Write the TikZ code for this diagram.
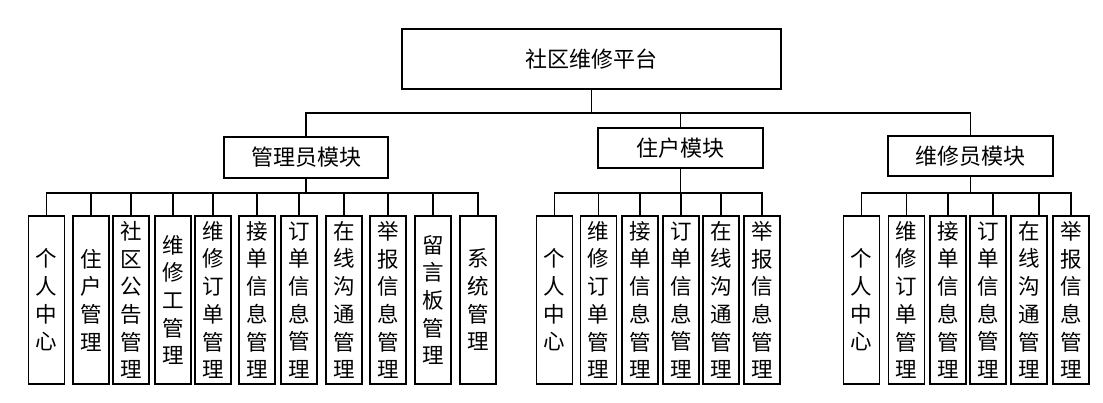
\documentclass[tikz,border=0pt]{standalone}
\usepackage{fontspec}
\newfontfamily\cjk{Noto Sans CJK SC}
\begin{document}
\begin{tikzpicture}[x=1pt,y=-1pt,
  box/.style={draw,line width=1.3pt,inner sep=0pt,font=\cjk\fontsize{22}{26}\selectfont},
  leaf/.style={draw,line width=1.3pt,inner sep=0pt,minimum width=36pt,minimum height=168pt,
    align=center,font=\cjk\fontsize{21.5}{27.7}\selectfont},
  wire/.style={line width=1.3pt}]
\useasboundingbox (0,0) rectangle (1103,403);

% Top level
\node[box,minimum width=379pt,minimum height=60pt] (top) at (591.5,59) {社区维修平台};

% Modules
\node[box,minimum width=164pt,minimum height=41pt] (admin) at (306,157.5) {管理员模块};
\node[box,minimum width=165pt,minimum height=40pt] (resident) at (680.5,148) {住户模块};
\node[box,minimum width=165pt,minimum height=40pt] (repair) at (970.5,156) {维修员模块};

% Main bus
\coordinate (mbus) at (592,113);
\draw[wire] (top.south) -- (top.south |- mbus);
\draw[wire] (admin.north) |- (mbus) -| (repair.north);
\draw[wire] (resident.north) -- (resident.north |- mbus);

% Admin leaves
\foreach \i/\x/\t in {1/46.6/{个\\人\\中\\心}, 2/91/{住\\户\\管\\理}, 3/131/{社\\区\\公\\告\\管\\理},
    4/173/{维\\修\\工\\管\\理}, 5/213/{维\\修\\订\\单\\管\\理}, 6/257/{接\\单\\信\\息\\管\\理},
    7/299/{订\\单\\信\\息\\管\\理}, 8/344/{在\\线\\沟\\通\\管\\理}, 9/388/{举\\报\\信\\息\\管\\理},
    10/433/{留\\言\\板\\管\\理}, 11/478/{系\\统\\管\\理}}
  \node[leaf] (a\i) at (\x,300) {\t};
\coordinate (abus) at (306,193);
\draw[wire] (admin.south) -- (admin.south |- abus);
\draw[wire] (a1.north) |- (abus) -| (a11.north);
\foreach \i in {2,...,10}
  \draw[wire] (a\i.north) -- (a\i.north |- abus);

% Resident leaves
\foreach \i/\x/\t in {1/554.5/{个\\人\\中\\心}, 2/598.5/{维\\修\\订\\单\\管\\理}, 3/640/{接\\单\\信\\息\\管\\理},
    4/681/{订\\单\\信\\息\\管\\理}, 5/721/{在\\线\\沟\\通\\管\\理}, 6/762/{举\\报\\信\\息\\管\\理}}
  \node[leaf] (u\i) at (\x,300) {\t};
\coordinate (ubus) at (681,193);
\draw[wire] (resident.south) -- (resident.south |- ubus);
\draw[wire] (u1.north) |- (ubus) -| (u6.north);
\foreach \i in {2,...,5}
  \draw[wire] (u\i.north) -- (u\i.north |- ubus);

% Repairman leaves
\foreach \i/\x/\t in {1/861.5/{个\\人\\中\\心}, 2/906.5/{维\\修\\订\\单\\管\\理}, 3/948/{接\\单\\信\\息\\管\\理},
    4/988/{订\\单\\信\\息\\管\\理}, 5/1029/{在\\线\\沟\\通\\管\\理}, 6/1071/{举\\报\\信\\息\\管\\理}}
  \node[leaf] (r\i) at (\x,300) {\t};
\coordinate (rbus) at (970,193);
\draw[wire] (repair.south) -- (repair.south |- rbus);
\draw[wire] (r1.north) |- (rbus) -| (r6.north);
\foreach \i/\d in {2/0,3/0,4/5,5/10}
  \draw[wire] ([xshift=\d pt]r\i.north) -- ([xshift=\d pt]r\i.north |- rbus);

\end{tikzpicture}
\end{document}
